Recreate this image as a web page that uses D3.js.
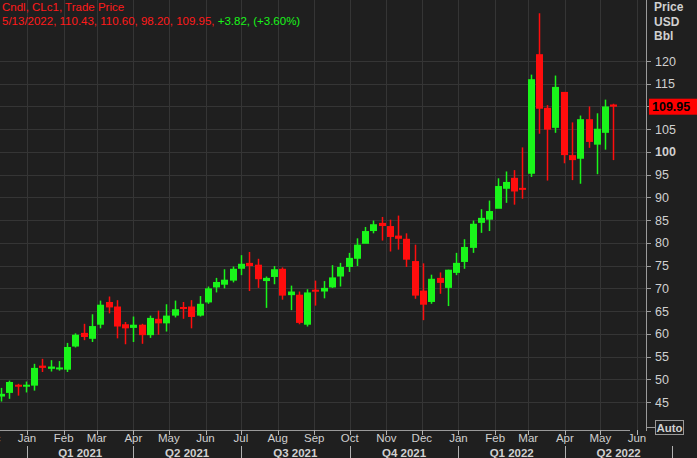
<!DOCTYPE html>
<html lang="en">
<head>
<meta charset="UTF-8">
<title>CLc1 weekly candles</title>
<style>
  body { margin: 0; background: #1f1f1f; }
  svg { display: block; font-family: 'Liberation Sans', Arial, sans-serif; }
</style>
</head>
<body>
<svg id="chart" width="697" height="458"></svg>
<script src="https://d3js.org/d3.v7.min.js"></script>
<script>
// weekly candles, open / high / low / close, first week starts Mon 7 Dec 2020
const firstWeek = new Date(2020, 11, 7);
const opens  = [46.2,47.0,48.8,48.4,48.6,53.0,52.3,52.3,52.1,57.2,60.2,58.9,62.0,67.0,66.0,62.1,61.3,62.0,59.7,63.3,62.3,64.0,
                65.9,66.0,64.0,66.9,70.2,70.8,71.7,74.3,75.6,75.2,71.6,72.5,74.3,68.5,68.6,62.0,69.7,69.3,
                70.2,72.6,74.7,76.5,79.8,82.6,84.4,83.7,81.6,80.9,76.0,69.5,67.0,72.3,70.1,73.4,75.8,78.9,84.4,
                85.1,87.5,91.9,94.3,92.1,95.2,121.5,109.7,105.3,113.2,99.3,98.5,107.2,101.6,104.2,110.43];
const highs  = [48.1,49.7,49.0,49.5,53.4,54.5,54.2,54.0,58.0,60.1,62.2,64.3,67.3,68.2,67.4,62.6,63.8,62.2,64.0,65.1,66.5,67.3,
                67.0,67.4,68.3,70.4,72.3,74.2,74.8,77.3,78.0,76.5,72.6,74.9,74.6,70.6,69.3,69.8,71.7,71.6,
                75.1,75.6,77.8,81.0,83.5,84.9,85.7,85.1,86.0,82.1,79.6,75.5,73.0,73.5,74.1,77.8,80.8,84.9,87.4,
                89.3,94.2,95.7,96.0,101.0,117.0,130.5,110.3,116.8,113.2,106.5,108.0,110.0,108.5,111.5,110.60];
const lows   = [45.1,45.7,46.4,47.1,47.5,51.6,51.7,51.9,51.6,57.0,58.6,58.2,61.2,64.5,59.0,57.7,58.2,57.8,59.1,59.8,60.5,63.6,
                63.3,61.2,63.8,66.6,69.1,70.0,71.3,72.9,69.4,70.1,65.7,70.9,67.5,65.2,62.1,61.6,66.2,67.8,
                70.1,70.4,73.6,74.9,80.0,82.1,80.5,78.1,78.5,74.7,67.7,63.0,66.6,68.8,66.1,72.9,74.3,77.8,82.2,
                82.6,88.2,88.8,88.4,89.7,94.5,104.0,93.7,104.2,97.5,93.8,93.0,100.9,95.1,100.5,98.20];
const closes = [46.8,49.4,48.4,48.8,52.5,52.5,52.8,52.6,57.1,59.8,59.3,61.7,66.4,65.8,61.6,61.2,62.0,59.7,63.5,62.3,64.0,65.4,
                65.5,63.7,66.6,70.0,71.4,71.9,74.3,75.4,74.9,72.0,72.3,74.2,68.4,69.3,62.4,69.1,69.6,70.1,
                72.4,74.7,76.7,79.6,82.6,84.1,83.7,81.3,80.9,76.3,68.4,66.4,72.1,71.2,74.1,75.6,79.1,84.2,85.5,
                87.0,92.5,93.4,91.3,91.7,116.0,109.5,104.9,114.3,99.3,98.2,107.2,102.2,105.1,110.0,109.95];

const priceTicks = [45, 50, 55, 60, 65, 70, 75, 80, 85, 90, 95, 100, 105, 110, 115, 120];
const monthLabels = ['Dec','Jan','Feb','Mar','Apr','May','Jun','Jul','Aug','Sep','Oct','Nov','Dec',
                     'Jan','Feb','Mar','Apr','May','Jun'];
const quarterLabels = ['Q4 2020','Q1 2021','Q2 2021','Q3 2021','Q4 2021','Q1 2022','Q2 2022'];

// candle drawn at mid-week
const candles = opens.map((o, i) => ({
  date: d3.timeDay.offset(d3.timeWeek.offset(firstWeek, i), 3),
  open: o, high: highs[i], low: lows[i], close: closes[i]
}));

const svg = d3.select('#chart');
const W = 697, H = 458;
const plotRight = 646, plotBottom = 430;

svg.append('rect').attr('width', W).attr('height', H).attr('fill', '#1f1f1f');

const x = d3.scaleTime()
  .domain([new Date(2021, 0, 1), new Date(2022, 5, 1)])
  .range([27, 637]);
const y = d3.scaleLinear().domain([45, 120]).range([402, 61]);

const monthDates = d3.timeMonth.range(new Date(2020, 11, 1), new Date(2022, 5, 2));
const quarterDates = d3.timeMonth.every(3).range(new Date(2020, 9, 1), new Date(2022, 6, 2));

// grid
const grid = svg.append('g').attr('stroke', '#353535').attr('stroke-width', 1);
grid.selectAll('.h').data(priceTicks).join('line')
  .attr('x1', 0).attr('x2', plotRight)
  .attr('y1', d => Math.round(y(d)) + 0.5).attr('y2', d => Math.round(y(d)) + 0.5);
grid.selectAll('.v').data(monthDates).join('line')
  .attr('x1', d => Math.round(x(d)) + 0.5).attr('x2', d => Math.round(x(d)) + 0.5)
  .attr('y1', 0).attr('y2', plotBottom);

// candles
const up = '#19f51a', down = '#ff0d0d';
const cg = svg.append('g');
cg.selectAll('line').data(candles).join('line')
  .attr('x1', d => Math.round(x(d.date)) + 0.5).attr('x2', d => Math.round(x(d.date)) + 0.5)
  .attr('y1', d => y(d.high)).attr('y2', d => y(d.low))
  .attr('stroke', d => d.close >= d.open ? up : down).attr('stroke-width', 1.5);
cg.selectAll('rect').data(candles).join('rect')
  .attr('x', d => Math.round(x(d.date)) - 3)
  .attr('width', 7)
  .attr('y', d => y(Math.max(d.open, d.close)))
  .attr('height', d => Math.max(2, Math.abs(y(d.open) - y(d.close))))
  .attr('fill', d => d.close >= d.open ? up : down);

// right axis
const axisColor = '#d0d0d0';
svg.append('line').attr('x1', plotRight + 0.5).attr('x2', plotRight + 0.5)
  .attr('y1', 0).attr('y2', plotBottom + 1).attr('stroke', '#9a9a9a');
const ya = svg.append('g');
ya.selectAll('line').data(priceTicks).join('line')
  .attr('x1', plotRight).attr('x2', plotRight + 5)
  .attr('y1', d => Math.round(y(d)) + 0.5).attr('y2', d => Math.round(y(d)) + 0.5)
  .attr('stroke', '#9a9a9a');
ya.selectAll('text').data(priceTicks.filter(d => d !== 110)).join('text')
  .attr('x', 655).attr('y', d => y(d) + 4.5)
  .attr('fill', axisColor).attr('font-size', 12.5)
  .attr('font-weight', d => d === 100 ? 'bold' : 'normal')
  .text(d => d);
['Price', 'USD', 'Bbl'].forEach((t, i) => {
  svg.append('text').attr('x', 654).attr('y', 11 + i * 14.5).attr('fill', axisColor)
    .attr('font-size', 12).attr('font-weight', 'bold').text(t);
});
const last = candles[candles.length - 1];
svg.append('rect').attr('x', 649).attr('y', y(last.close) - 8).attr('width', 48).attr('height', 16)
  .attr('fill', '#ff0000');
svg.append('text').attr('x', 652).attr('y', y(last.close) + 4.5).attr('fill', '#000')
  .attr('font-size', 12.5).attr('font-weight', 'bold').text(last.close.toFixed(2));

// bottom axis
svg.append('line').attr('x1', 0).attr('x2', 630).attr('y1', plotBottom + 0.5).attr('y2', plotBottom + 0.5)
  .attr('stroke', '#9a9a9a');
svg.append('rect').attr('x', 655.5).attr('y', 420.5).attr('width', 28).attr('height', 14)
  .attr('fill', '#1f1f1f').attr('stroke', '#9a9a9a');
svg.append('line').attr('x1', plotRight).attr('x2', 655).attr('y1', 427.5).attr('y2', 427.5).attr('stroke', '#9a9a9a');
svg.append('text').attr('x', 669.5).attr('y', 432).attr('text-anchor', 'middle').attr('fill', axisColor)
  .attr('font-size', 11.5).attr('font-weight', 'bold').text('Auto');

const xa = svg.append('g');
xa.selectAll('line').data(monthDates).join('line')
  .attr('x1', d => Math.round(x(d)) + 0.5).attr('x2', d => Math.round(x(d)) + 0.5)
  .attr('y1', plotBottom).attr('y2', plotBottom + 5).attr('stroke', '#b0b0b0');
xa.selectAll('text').data(monthDates).join('text')
  .attr('x', d => x(d)).attr('y', 442).attr('text-anchor', 'middle')
  .attr('fill', axisColor).attr('font-size', 11.5)
  .text((d, i) => monthLabels[i]);

const qa = svg.append('g');
qa.selectAll('line').data(quarterDates.slice(1)).join('line')
  .attr('x1', d => Math.round(x(d)) + 0.5).attr('x2', d => Math.round(x(d)) + 0.5)
  .attr('y1', 446).attr('y2', 458).attr('stroke', '#b0b0b0');
qa.selectAll('text').data(quarterDates.slice(0, quarterLabels.length)).join('text')
  .attr('x', d => (x(d) + x(d3.timeMonth.offset(d, 3))) / 2).attr('y', 457)
  .attr('text-anchor', 'middle').attr('fill', axisColor)
  .attr('font-size', 11.5).attr('font-weight', 'bold')
  .text((d, i) => quarterLabels[i]);

// header
const hdr = svg.append('g').attr('font-size', 11.5);
hdr.append('text').attr('x', 2).attr('y', 11).attr('fill', '#ff1a1a').text('Cndl, CLc1, Trade Price');
const line2 = hdr.append('text').attr('x', 2).attr('y', 25);
line2.append('tspan').attr('fill', '#ff1a1a').text('5/13/2022, 110.43, 110.60, 98.20, 109.95, ');
line2.append('tspan').attr('fill', '#19f51a').text('+3.82, (+3.60%)');
</script>
</body>
</html>
